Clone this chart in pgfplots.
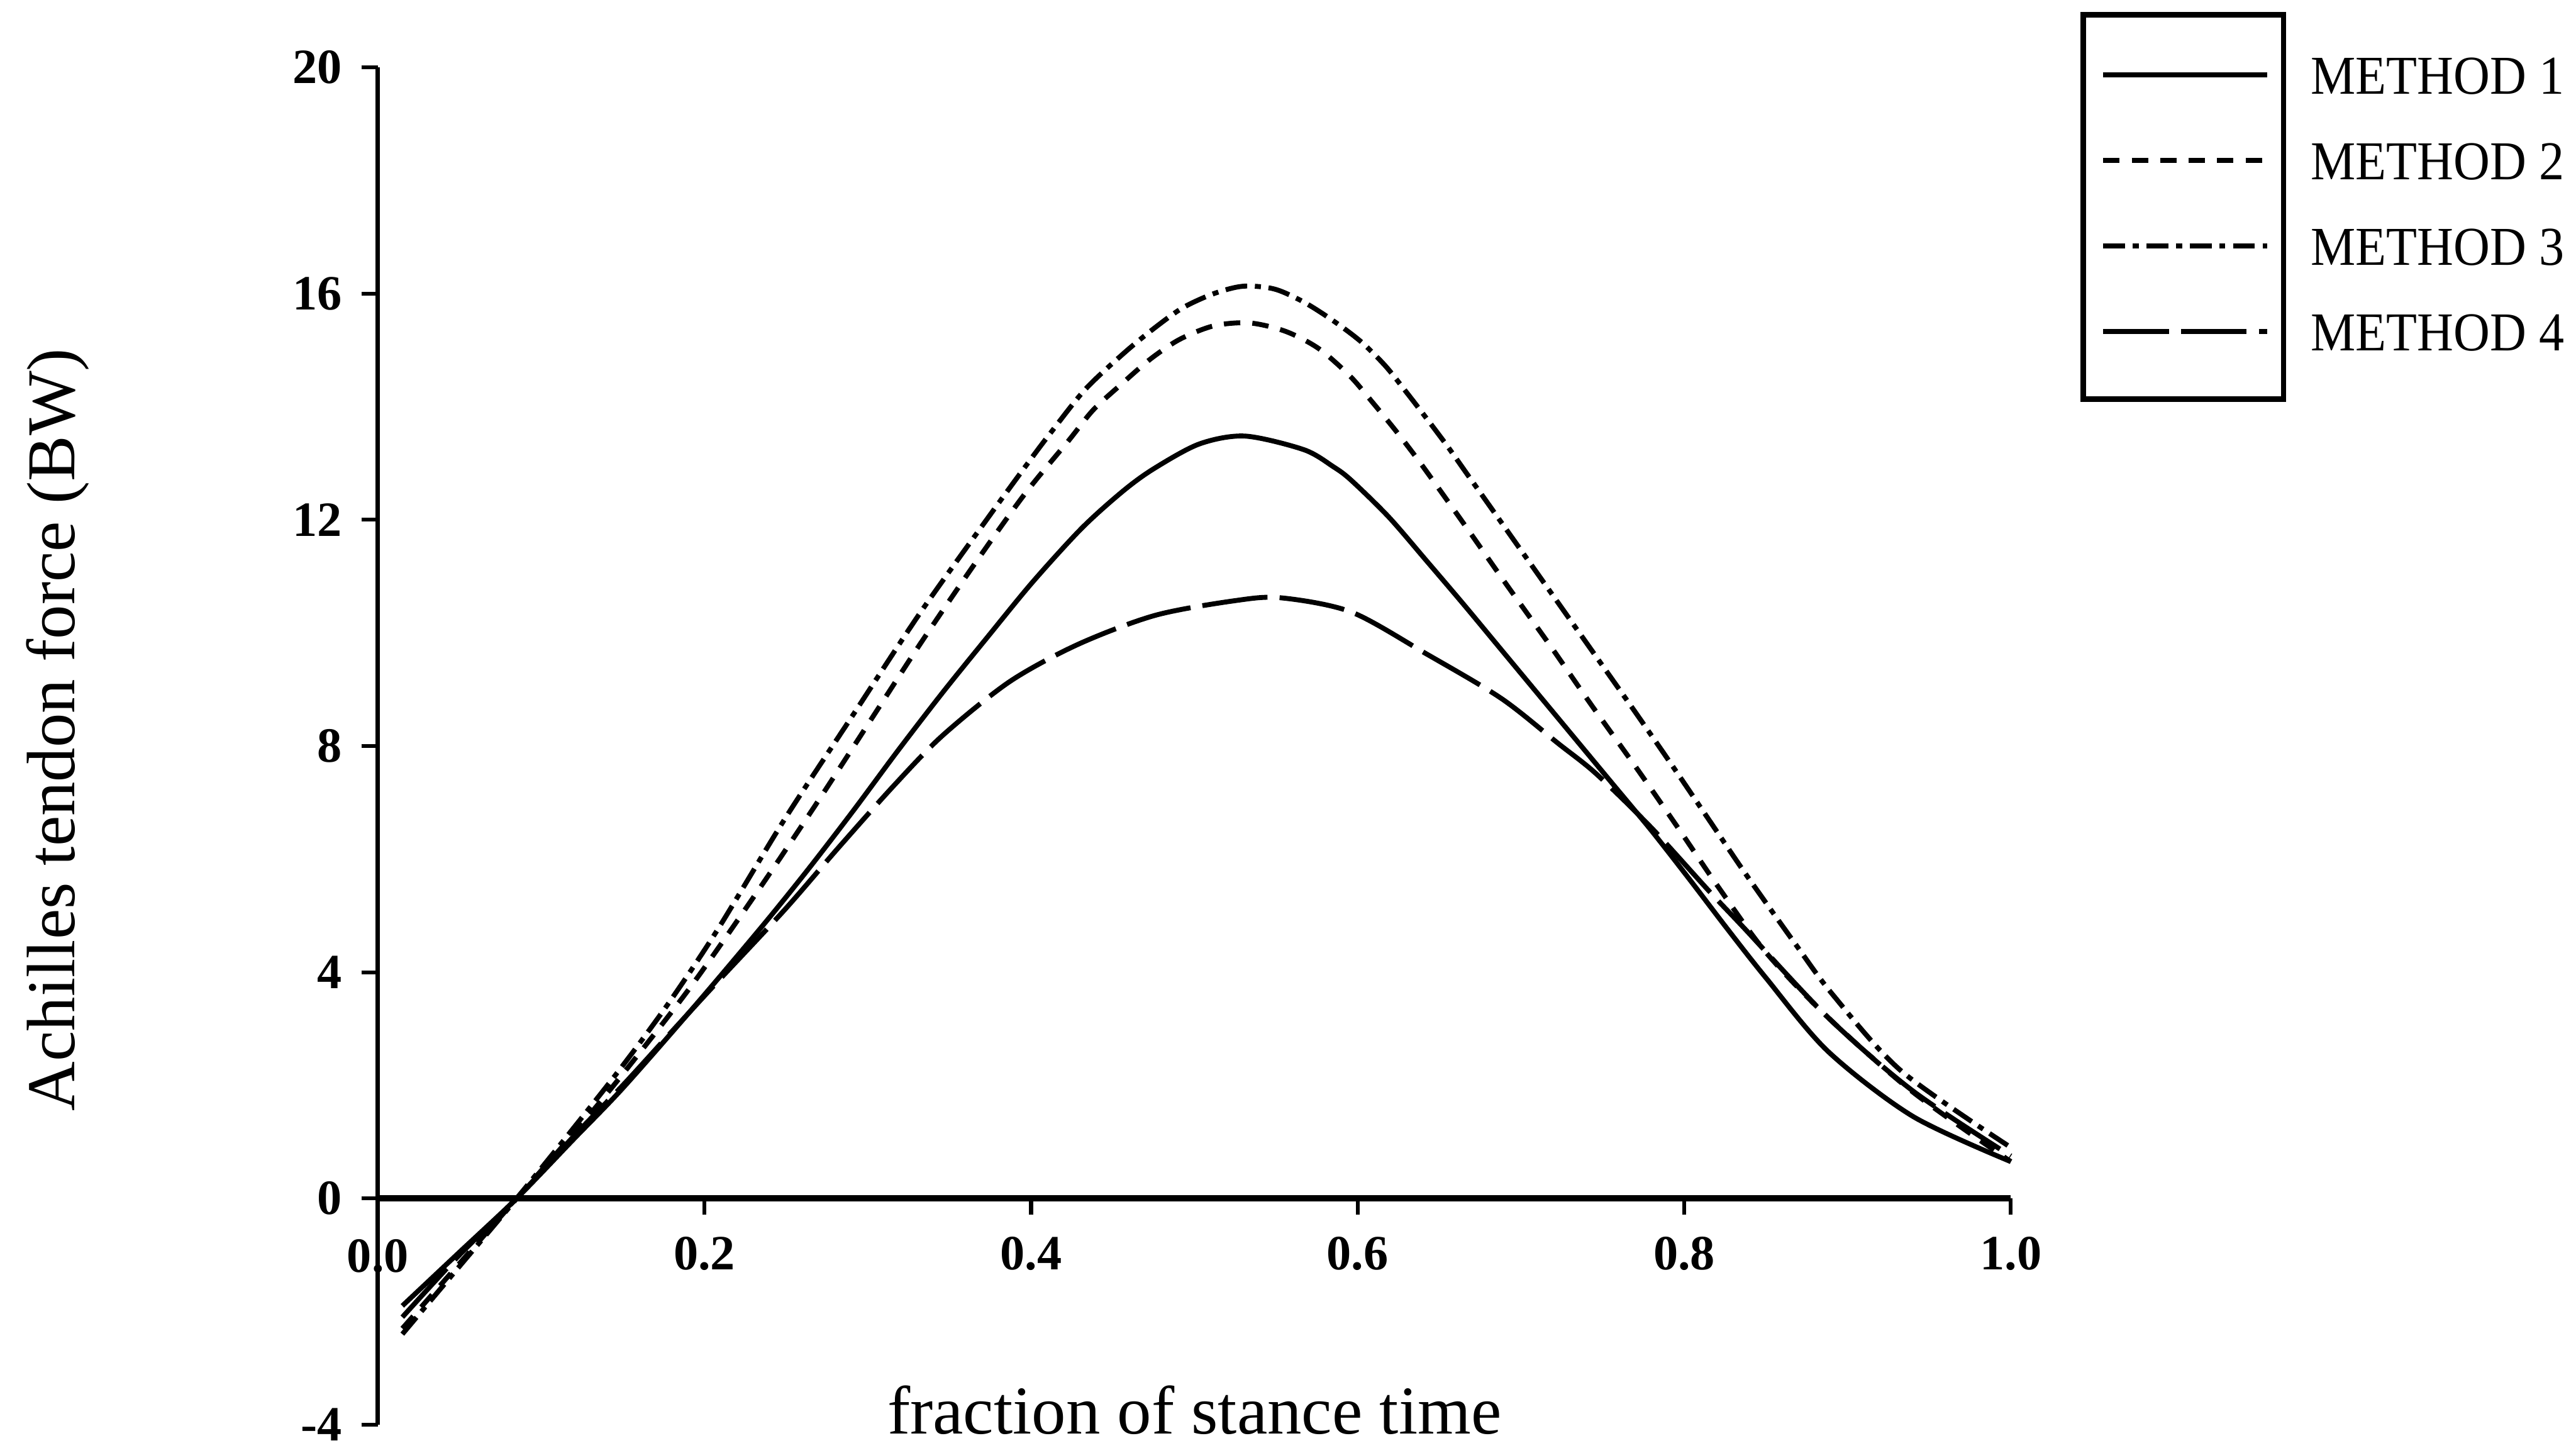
\documentclass[border=0pt]{standalone}
\usepackage{fontspec}
\setmainfont{Liberation Serif}
\newfontfamily\legfont[FakeStretch=0.92]{Liberation Serif}
\usepackage{pgfplots}
\usepackage{pgfplotstable}
\pgfplotsset{compat=1.18}

\pgfplotstableread{
x y
0.015 -1.9
0.05 -0.95
0.085 0
0.12 1.05
0.15 1.95
0.194 3.4
0.235 4.8
0.263 5.8
0.291 6.85
0.318 7.9
0.346 8.95
0.374 9.95
0.401 10.9
0.431 11.85
0.456 12.5
0.475 12.9
0.503 13.34
0.531 13.48
0.567 13.24
0.585 12.94
0.596 12.7
0.619 12.05
0.642 11.28
0.665 10.5
0.688 9.7
0.711 8.9
0.734 8.1
0.757 7.3
0.780 6.5
0.803 5.65
0.826 4.78
0.85 3.9
0.888 2.6
0.94 1.45
1.0 0.65
}\methodA

\pgfplotstableread{
x y
0.015 -2.3
0.05 -1.15
0.085 0
0.12 1.15
0.15 2.2
0.191 3.72
0.233 5.45
0.269 7.0
0.305 8.6
0.332 9.8
0.365 11.2
0.396 12.45
0.423 13.4
0.438 13.94
0.455 14.39
0.473 14.84
0.491 15.19
0.512 15.43
0.534 15.48
0.556 15.33
0.576 15.03
0.595 14.55
0.609 14.08
0.624 13.55
0.639 12.98
0.665 11.93
0.691 10.86
0.718 9.77
0.743 8.73
0.771 7.6
0.796 6.56
0.821 5.5
0.85 4.35
0.888 3.2
0.94 1.88
1.0 0.65
}\methodB

\pgfplotstableread{
x y
0.015 -2.4
0.05 -1.2
0.085 0
0.12 1.25
0.15 2.35
0.178 3.45
0.208 4.75
0.249 6.7
0.291 8.55
0.332 10.35
0.374 12.05
0.398 13.0
0.411 13.5
0.433 14.3
0.457 14.95
0.476 15.4
0.493 15.75
0.512 16.0
0.53 16.13
0.549 16.08
0.567 15.85
0.585 15.52
0.602 15.15
0.617 14.72
0.630 14.25
0.642 13.8
0.655 13.3
0.666 12.85
0.679 12.32
0.702 11.38
0.725 10.44
0.748 9.5
0.769 8.64
0.792 7.68
0.815 6.7
0.838 5.72
0.868 4.5
0.891 3.6
0.933 2.25
1.0 0.9
}\methodC

\pgfplotstableread{
x y
0.015 -2.1
0.05 -1.0
0.085 0
0.12 1.1
0.15 2.0
0.18 2.95
0.207 3.8
0.249 5.1
0.282 6.2
0.316 7.3
0.346 8.19
0.387 9.14
0.429 9.8
0.476 10.31
0.525 10.57
0.553 10.62
0.596 10.37
0.642 9.63
0.688 8.84
0.723 8.04
0.746 7.51
0.78 6.55
0.815 5.44
0.836 4.8
0.888 3.2
0.94 1.9
1.0 0.75
}\methodD

\begin{document}
\begin{tikzpicture}
\path[use as bounding box] (-69pt,-4.2pt) rectangle (401.4pt,260.1pt);
\begin{axis}[
  scale only axis, width=298.2pt, height=247.8pt,
  xmin=0, xmax=1, ymin=-4, ymax=20,
  axis x line=middle, axis y line=left,
  axis line style={-, line width=0.8pt},
  x axis line style={-, line width=1.1pt},
  xtick={0,0.2,0.4,0.6,0.8,1.0},
  xticklabels={0.0,0.2,0.4,0.6,0.8,1.0},
  ytick={-4,0,4,8,12,16,20},
  yticklabels={-4,0,4,8,12,16,20},
  tick align=outside, major tick length=3pt,
  tick style={black, line width=0.7pt},
  ticklabel style={font=\fontsize{9}{10}\selectfont\bfseries},
  xticklabel style={yshift=-0.5pt},
  xlabel={fraction of stance time},
  ylabel={Achilles tendon force (BW)},
  label style={font=\fontsize{12.5}{14}\selectfont},
  xlabel style={at={(axis description cs:0.5,-0.007)}, anchor=base},
  ylabel style={at={(axis description cs:-0.196,0.512)}, anchor=center},
  legend style={draw=none, fill=none, at={(axis description cs:1.0443,1.0174)}, anchor=north west,
    font=\legfont\fontsize{10}{11}\selectfont, row sep=8.6pt, column sep=7.5pt,
    nodes={inner sep=0pt, text height=7pt, text depth=0pt}},
  legend cell align=left,
  legend image code/.code={\draw[#1, line width=0.9pt] (0pt,0pt) -- (30pt,0pt);},
  clip=false,
]
\addplot[black, line width=0.9pt, smooth] table {\methodA};
\addlegendentry{METHOD 1}
\addplot[black, line width=0.9pt, smooth, dash pattern=on 3pt off 2.2pt] table {\methodB};
\addlegendentry{METHOD 2}
\addplot[black, line width=0.9pt, smooth, dash pattern=on 4pt off 1.4pt on 1.1pt off 1.4pt] table {\methodC};
\addlegendentry{METHOD 3}
\addplot[black, line width=0.9pt, smooth, dash pattern=on 12pt off 2.2pt] table {\methodD};
\addlegendentry{METHOD 4}
\node[anchor=center, font=\fontsize{9}{10}\selectfont\bfseries, yshift=-10.5pt] at (axis cs:0,0) {0.0};
\end{axis}
\draw[line width=1pt] (311.4pt,187.2pt) rectangle (348pt,257.4pt);
\end{tikzpicture}
\end{document}
